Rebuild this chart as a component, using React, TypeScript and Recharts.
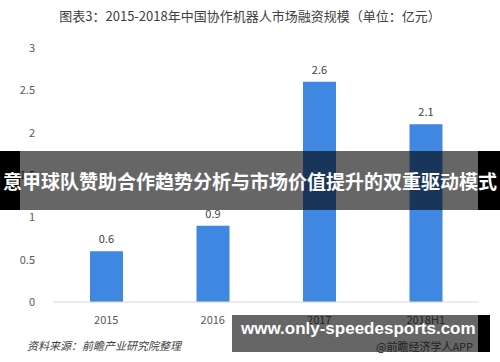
import { Bar, BarChart, LabelList, XAxis, YAxis } from 'recharts'

const categories = ['2015', '2016', '2017', '2018H1']
const financing = [0.6, 0.9, 2.6, 2.1]
const yTicks = [0, 0.5, 1, 1.5, 2, 2.5, 3]

const title = '图表3：2015-2018年中国协作机器人市场融资规模（单位：亿元）'
const source = '资料来源：前瞻产业研究院整理'
const banner = '意甲球队赞助合作趋势分析与市场价值提升的双重驱动模式'
const site = 'www.only-speedesports.com'
const watermark = '@前瞻经济学人APP'

const font = '"Noto Sans CJK SC", "Noto Sans", sans-serif'

const App = () => {
  const data = categories.map((name, idx) => ({ name, value: financing[idx] }))

  return (
    <div style={{ position: 'absolute', left: 0, top: 0, width: 500, height: 362, background: '#fff', fontFamily: font, overflow: 'hidden' }}>
      <div style={{ position: 'absolute', top: 6, left: 0, width: 500, textAlign: 'center', fontSize: 13, color: '#404040' }}>
        {title}
      </div>

      <BarChart width={500} height={362} data={data} margin={{ top: 48, right: 21, bottom: 30, left: 0 }}>
        <YAxis
          width={53}
          domain={[0, 3]}
          ticks={yTicks}
          axisLine={false}
          tickLine={false}
          tick={{ fontSize: 11, fill: '#595959', fontFamily: font }}
          tickMargin={12}
        />
        <XAxis
          dataKey="name"
          height={30}
          axisLine={{ stroke: '#d9d9d9' }}
          tickLine={false}
          tick={{ fontSize: 11, fill: '#595959', fontFamily: font }}
          tickMargin={8}
        />
        <Bar dataKey="value" fill="#3f87e0" barSize={33} isAnimationActive={false}>
          <LabelList dataKey="value" position="top" offset={8} style={{ fontSize: 11, fill: '#404040', fontFamily: font }}/>
        </Bar>
      </BarChart>

      <div style={{ position: 'absolute', left: 27, top: 337, fontSize: 11, fontStyle: 'italic', color: '#404040' }}>
        {source}
      </div>

      <div style={{ position: 'absolute', left: 0, top: 151, width: 20, height: 59, background: '#000' }}/>
      <div style={{ position: 'absolute', left: 478, top: 151, width: 22, height: 59, background: '#000' }}/>
      <div style={{ position: 'absolute', left: 20, top: 151, width: 458, height: 59, background: 'rgba(0,0,0,0.6)' }}/>
      <div style={{ position: 'absolute', left: 0, top: 151, width: 500, height: 59, lineHeight: '59px', textAlign: 'center', color: '#fff', fontWeight: 'bold', fontSize: 19, whiteSpace: 'nowrap' }}>
        {banner}
      </div>

      <div style={{ position: 'absolute', left: 232, top: 315, width: 246, height: 37, background: 'rgba(0,0,0,0.6)' }}/>
      <div style={{ position: 'absolute', left: 478, top: 315, width: 12, height: 37, background: '#000' }}/>
      <div style={{ position: 'absolute', left: 376, top: 338, fontSize: 11, color: '#222', whiteSpace: 'nowrap' }}>
        {watermark}
      </div>
      <div style={{ position: 'absolute', left: 241, top: 319, fontSize: 17, fontWeight: 'bold', color: '#fff', whiteSpace: 'nowrap', fontFamily: '"Liberation Sans", Arial, sans-serif' }}>
        {site}
      </div>
    </div>
  )
}

export default App
